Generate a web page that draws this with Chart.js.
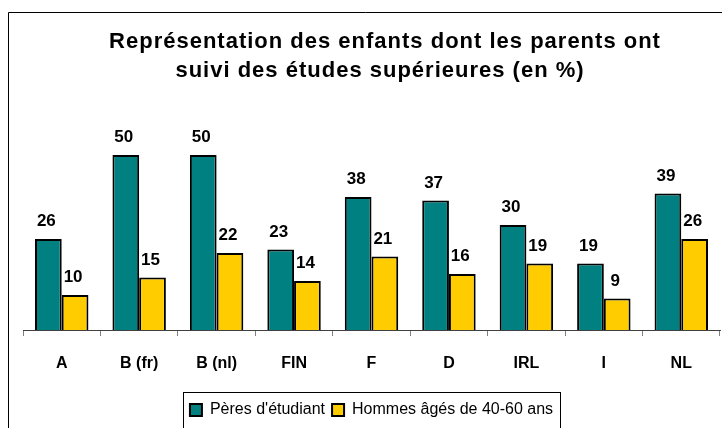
<!DOCTYPE html>
<html>
<head>
<meta charset="utf-8">
<script src="https://cdn.jsdelivr.net/npm/chart.js@4.4.1/dist/chart.umd.min.js"></script>
<style>
html, body { margin: 0; padding: 0; background: #fff; }
#wrap { width: 722px; height: 428px; }
</style>
</head>
<body>
<div id="wrap"><canvas id="chart"></canvas></div>
<script>
const pays = ["A", "B (fr)", "B (nl)", "FIN", "F", "D", "IRL", "I", "NL"];
const peres = [26, 50, 50, 23, 38, 37, 30, 19, 39];
const hommes = [10, 15, 22, 14, 21, 16, 19, 9, 26];
const titre = ["Représentation des enfants dont les parents ont", "suivi des études supérieures (en %)"];

// cadre, titre, valeurs et cadre de la légende
const decor = {
    id: "decor",
    beforeDraw(chart) {
        const c = chart.ctx;
        c.save();
        c.fillStyle = "#fff";
        c.fillRect(0, 0, chart.width, chart.height);
        c.strokeStyle = "#000";
        c.lineWidth = 1;
        c.beginPath();
        c.moveTo(8.5, chart.height);
        c.lineTo(8.5, 12.5);
        c.lineTo(chart.width, 12.5);
        c.stroke();
        c.restore();
    },
    afterDraw(chart) {
        const c = chart.ctx;
        c.save();
        c.fillStyle = "#000";
        c.textAlign = "center";
        c.textBaseline = "alphabetic";
        c.font = "bold 22px 'Liberation Sans', Arial, sans-serif";
        c.letterSpacing = "1px";
        c.fillText(titre[0], 385, 48);
        c.fillText(titre[1], 380, 77);

        c.letterSpacing = "0px";
        c.font = "bold 17px 'Liberation Sans', Arial, sans-serif";
        chart.data.datasets.forEach((ds, i) => {
            chart.getDatasetMeta(i).data.forEach((bar, j) => {
                c.fillText(ds.data[j], bar.x - 2, bar.y - 13);
            });
        });

        const hb = chart.legend.legendHitBoxes;
        if (hb && hb.length) {
            const l = hb[0].left - 7;
            const r = hb[hb.length - 1].left + hb[hb.length - 1].width + 7;
            const t = hb[0].top - 10;
            c.strokeStyle = "#000";
            c.lineWidth = 1;
            c.strokeRect(Math.round(l) + 0.5, Math.round(t) + 0.5, Math.round(r - l), 60);
        }
        c.restore();
    }
};

new Chart(document.getElementById("chart"), {
    type: "bar",
    data: {
        labels: pays,
        datasets: [{
            label: "Pères d'étudiant",
            data: peres,
            backgroundColor: "#008080",
            borderColor: "#000",
            borderWidth: 2
        }, {
            label: "Hommes âgés de 40-60 ans",
            data: hommes,
            backgroundColor: "#ffcc00",
            borderColor: "#000",
            borderWidth: 2
        }]
    },
    options: {
        responsive: true,
        maintainAspectRatio: false,
        animation: false,
        layout: { padding: { left: 23, right: 2, top: 120, bottom: 0 } },
        datasets: { bar: { categoryPercentage: 0.69, barPercentage: 1 } },
        scales: {
            y: { display: false, min: 0, max: 60 },
            x: {
                afterFit(s) { s.height = 65; },
                grid: { display: true, drawOnChartArea: false, tickLength: 6, color: "#808080" },
                border: { color: "#404040", width: 1 },
                ticks: { color: "#000", padding: 18, font: { family: "'Liberation Sans', Arial, sans-serif", size: 16, weight: "bold" } }
            }
        },
        plugins: {
            title: { display: false },
            tooltip: { enabled: false },
            legend: {
                position: "bottom",
                labels: {
                    color: "#000",
                    boxWidth: 12,
                    boxHeight: 12,
                    padding: 7,
                    font: { family: "'Liberation Sans', Arial, sans-serif", size: 16 }
                }
            }
        }
    },
    plugins: [decor]
});
</script>
</body>
</html>
